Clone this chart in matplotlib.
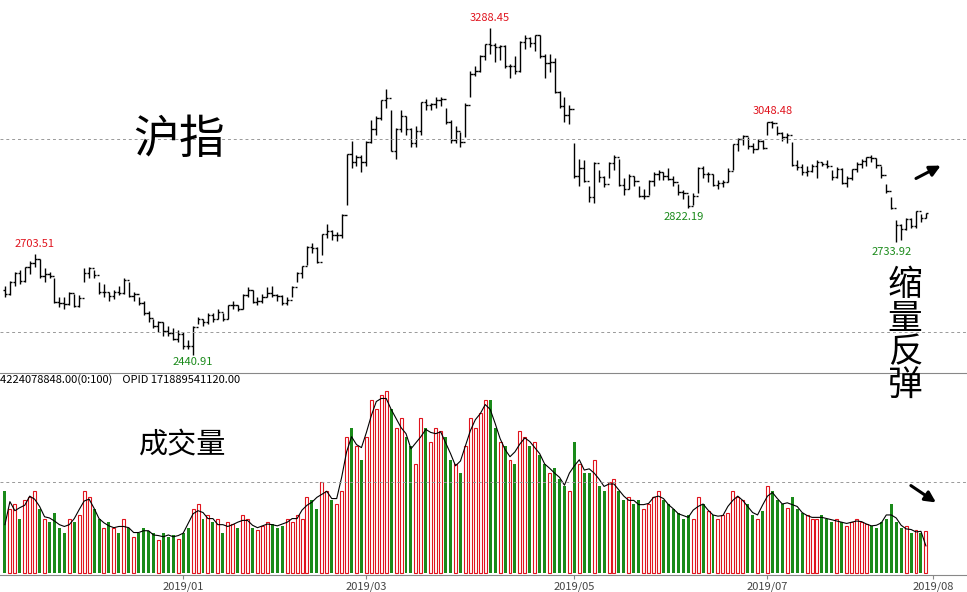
import numpy as np
import matplotlib.pyplot as plt
from matplotlib.patches import FancyArrowPatch

plt.rcParams['font.family'] = ['Noto Sans CJK SC', 'DejaVu Sans']

# daily SSE composite, 2018-11-09 .. 2019-08-14
close = [2598, 2630, 2654, 2632, 2668, 2679, 2690, 2645, 2651, 2645, 2579, 2575, 2574, 2601, 2567, 2588,
         2654, 2665, 2649, 2605, 2605, 2594, 2603, 2602, 2634, 2593, 2598, 2576, 2549, 2536, 2516, 2527, 2504, 2498, 2483, 2494,
         2465, 2464, 2514, 2533, 2526, 2544, 2535, 2553, 2535, 2570, 2570, 2559, 2596, 2610, 2579, 2581, 2591, 2601, 2596, 2594, 2575, 2584,
         2618, 2653, 2671, 2721, 2719, 2682, 2754, 2761, 2751, 2751, 2804, 2961, 2941, 2953, 2940,
         2994, 3027, 3054, 3102, 3106, 2969, 3026, 3060, 3026, 2990, 3021, 3096, 3090, 3091, 3101, 3104, 3044, 2997, 3022, 2994, 3090,
         3170, 3176, 3216, 3246, 3244, 3239, 3241, 3189, 3189, 3177, 3253, 3263, 3250, 3271, 3215, 3198, 3201, 3123, 3086, 3062, 3078,
         2906, 2926, 2893, 2850, 2939, 2903, 2883, 2938, 2955, 2882, 2870, 2905, 2891, 2852, 2852, 2892, 2909, 2914, 2905, 2898,
         2890, 2862, 2861, 2827, 2852, 2925, 2909, 2910, 2882, 2887, 2890, 2917, 2987, 3001, 3008, 2982, 2976, 2996, 2978,
         3044, 3043, 3015, 3005, 3011, 2933, 2929, 2915, 2917, 2930, 2942, 2937, 2931, 2901, 2924, 2886, 2899, 2923, 2937, 2944, 2953, 2952, 2932,
         2908, 2867, 2821, 2777, 2768, 2794, 2774, 2815, 2797, 2808]
high = [2620, 2632, 2656, 2660, 2670, 2685, 2703.51, 2690, 2665, 2655, 2640, 2590, 2590, 2605, 2600, 2595,
        2666, 2670, 2660, 2630, 2625, 2605, 2610, 2620, 2640, 2630, 2605, 2590, 2580, 2555, 2535, 2530, 2525, 2515, 2510, 2505,
        2500, 2480, 2515, 2540, 2535, 2550, 2550, 2560, 2550, 2570, 2580, 2570, 2598, 2618, 2610, 2590, 2598, 2618, 2620, 2600, 2595, 2590,
        2620, 2655, 2672, 2722, 2730, 2720, 2755, 2780, 2765, 2760, 2805, 2961, 2995, 2960, 2960,
        2995, 3050, 3060, 3103, 3129, 3075, 3030, 3075, 3060, 3030, 3035, 3097, 3105, 3095, 3110, 3110, 3080, 3050, 3035, 3018, 3093,
        3176, 3190, 3218, 3247, 3288.45, 3250, 3245, 3245, 3195, 3215, 3254, 3270, 3265, 3271, 3270, 3220, 3220, 3210, 3125, 3110, 3090,
        2990, 2950, 2945, 2880, 2940, 2920, 2905, 2940, 2960, 2950, 2900, 2910, 2905, 2880, 2870, 2895, 2915, 2920, 2915, 2925,
        2905, 2885, 2868, 2855, 2860, 2928, 2930, 2915, 2910, 2895, 2895, 2925, 2988, 3004, 3010, 3005, 2990, 3000, 2998,
        3045, 3048.48, 3035, 3020, 3015, 2993, 2945, 2935, 2930, 2935, 2945, 2942, 2945, 2920, 2927, 2925, 2905, 2924, 2940, 2950, 2955, 2960, 2952,
        2930, 2885, 2850, 2790, 2780, 2795, 2795, 2815, 2805, 2810]
low = [2590, 2595, 2620, 2625, 2630, 2650, 2670, 2640, 2630, 2640, 2575, 2565, 2560, 2570, 2565, 2565,
       2630, 2640, 2640, 2600, 2590, 2580, 2585, 2595, 2600, 2590, 2580, 2570, 2545, 2525, 2510, 2500, 2490, 2490, 2480, 2475,
       2456, 2455, 2440.91, 2520, 2515, 2520, 2525, 2535, 2530, 2535, 2560, 2555, 2560, 2590, 2575, 2570, 2575, 2590, 2590, 2580, 2570, 2570,
       2590, 2630, 2640, 2675, 2705, 2680, 2700, 2745, 2740, 2735, 2745, 2830, 2925, 2930, 2915,
       2930, 2990, 3010, 3050, 3080, 2969, 2950, 3020, 3010, 2980, 2980, 3010, 3075, 3075, 3080, 3085, 3040, 2990, 2990, 2980, 3005,
       3110, 3165, 3175, 3205, 3220, 3200, 3205, 3185, 3160, 3170, 3175, 3235, 3240, 3230, 3210, 3160, 3175, 3120, 3080, 3045, 3040,
       2900, 2880, 2890, 2838, 2835, 2890, 2875, 2900, 2920, 2878, 2855, 2870, 2880, 2850, 2845, 2855, 2880, 2895, 2895, 2895,
       2880, 2855, 2845, 2822.19, 2830, 2860, 2900, 2890, 2880, 2870, 2875, 2890, 2920, 2970, 2985, 2975, 2965, 2975, 2975,
       3010, 3030, 3010, 2995, 2990, 2930, 2920, 2908, 2905, 2915, 2900, 2930, 2925, 2895, 2900, 2885, 2875, 2895, 2915, 2925, 2930, 2940, 2925,
       2900, 2860, 2820, 2733.92, 2740, 2765, 2770, 2770, 2785, 2795]
volume = [.45, .35, .38, .30, .40, .42, .45, .35, .30, .28, .33, .25, .22, .30, .28, .32,
          .45, .42, .35, .30, .25, .28, .25, .22, .30, .25, .20, .22, .25, .23, .22, .18, .22, .20, .21, .19,
          .22, .25, .35, .38, .30, .32, .28, .30, .22, .28, .27, .25, .32, .30, .25, .24, .26, .28, .27, .25, .26, .30,
          .28, .32, .30, .42, .40, .35, .50, .45, .40, .38, .45, .75, .80, .70, .62,
          .75, .95, .90, .98, 1.0, .90, .80, .85, .75, .70, .60, .85, .80, .72, .80, .78, .75, .62, .60, .55, .70,
          .85, .80, .88, .95, .95, .80, .72, .70, .62, .60, .78, .75, .70, .72, .65, .60, .55, .58, .52, .48, .45,
          .72, .60, .55, .55, .62, .48, .45, .50, .52, .45, .40, .42, .38, .40, .35, .38, .42, .45, .40, .38,
          .35, .33, .30, .32, .30, .42, .38, .34, .32, .30, .32, .33, .45, .42, .40, .38, .32, .30, .34,
          .48, .45, .40, .38, .36, .42, .35, .33, .32, .30, .30, .32, .30, .28, .30, .28, .26, .28, .30, .28, .27, .26, .25,
          .28, .30, .38, .28, .25, .26, .22, .24, .22, .23]
month_pos = [36, 73, 115, 154, 187.5]
month_labels = ['2019/01', '2019/03', '2019/05', '2019/07', '2019/08']

close = np.array(close, float)
high = np.array(high, float)
low = np.array(low, float)
volume = np.array(volume)
openp = np.concatenate([[2610], close[:-1]])
x = np.arange(len(close))
up = close >= openp

fig = plt.figure(figsize=(9.67, 5.92), dpi=100)
ax = fig.add_axes([0, 219 / 592, 1, 373 / 592])
axv = fig.add_axes([0, 17 / 592, 1, 202 / 592])
axv.patch.set_visible(False)
xlim = (-1, 194.3)

ax.vlines(x, low, high, color='black', lw=1)
ax.hlines(openp, x - 0.45, x, color='black', lw=1)
ax.hlines(close, x, x + 0.45, color='black', lw=1)
ax.set_xlim(*xlim)
ax.set_ylim(2394, 3361)
for lvl in (2500, 3000):
    ax.axhline(lvl, color='#999999', ls=(0, (3, 3)), lw=0.7)
for s in ax.spines.values():
    s.set_visible(False)
ax.spines['bottom'].set_visible(True)
ax.spines['bottom'].set_color('#888888')
ax.set_xticks([])
ax.set_yticks([])

red, green = '#e0141e', '#1a8a1a'
ax.text(6, 2703.51 + 12, '2703.51', color=red, fontsize=8, ha='center', va='bottom')
ax.text(38, 2440.91 - 6, '2440.91', color=green, fontsize=8, ha='center', va='top')
ax.text(98, 3288.45 + 12, '3288.45', color=red, fontsize=8, ha='center', va='bottom')
ax.text(137, 2822.19 - 12, '2822.19', color=green, fontsize=8, ha='center', va='top')
ax.text(155, 3048.48 + 12, '3048.48', color=red, fontsize=8, ha='center', va='bottom')
ax.text(179, 2733.92 - 12, '2733.92', color=green, fontsize=8, ha='center', va='top')
ax.text(26, 3000, '沪指', fontsize=33, ha='left', va='center')
fig.text(905 / 967, 1 - 268 / 592, '缩\n量\n反\n弹', fontsize=25, ha='center', va='top',
         linespacing=0.95, zorder=10)
ax.add_patch(FancyArrowPatch((183.5, 2895), (189.5, 2935), arrowstyle='-|>', mutation_scale=16, lw=2.2, color='black'))

axv.bar(x[up], volume[up], width=0.6, facecolor='white', edgecolor=red, lw=0.8)
axv.bar(x[~up], volume[~up], width=0.6, color=green)
ma = np.convolve(volume, np.ones(3) / 3, mode='same')
axv.plot(x, ma, color='black', lw=0.8)
axv.set_xlim(*xlim)
axv.set_ylim(-0.01, 1.1)
axv.axhline(0.5, color='#999999', ls=(0, (3, 3)), lw=0.7)
for s in axv.spines.values():
    s.set_visible(False)
axv.spines['bottom'].set_visible(True)
axv.spines['bottom'].set_color('#888888')
axv.set_yticks([])
axv.set_xticks(month_pos)
axv.set_xticklabels(month_labels, fontsize=8, color='#444444')
axv.tick_params(axis='x', length=3, pad=2, color='#888888')
axv.text(0.0, 0.995, '4224078848.00(0:100)    OPID 171889541120.00', transform=axv.transAxes,
         fontsize=8, ha='left', va='top')
axv.text(27, 0.7, '成交量', fontsize=21, ha='left', va='center')
axv.add_patch(FancyArrowPatch((182.5, 0.49), (188.5, 0.38), arrowstyle='-|>', mutation_scale=16, lw=2.2, color='black'))

fig.savefig('out.png', dpi=100)
